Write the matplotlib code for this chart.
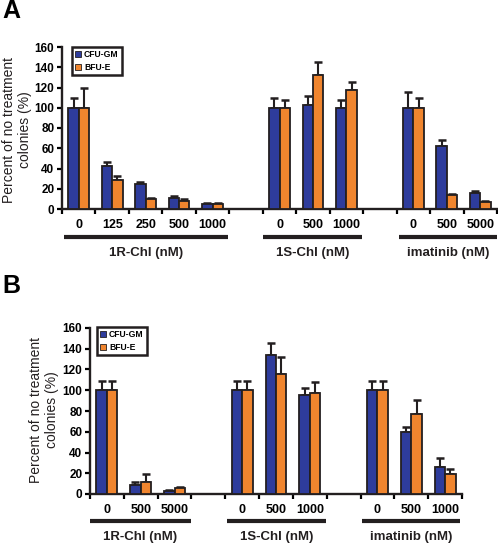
import numpy as np
import matplotlib
matplotlib.use("Agg")
import matplotlib.pyplot as plt
from matplotlib.patches import Patch
from matplotlib.transforms import blended_transform_factory

plt.rcParams['font.family'] = ['Liberation Sans', 'DejaVu Sans']

BLUE = "#2e3c9c"
ORANGE = "#f0852e"
EDGE = "#231f20"

# panel A
a_labels = ["0", "125", "250", "500", "1000", "0", "500", "1000", "0", "500", "5000"]
a_slots = [0, 1, 2, 3, 4, 6, 7, 8, 10, 11, 12]
a_gm = [100, 42, 25, 11, 5, 100, 103, 100, 100, 62, 16]
a_gm_err = [10, 4, 2, 2, 1, 10, 9, 8, 16, 6, 1.5]
a_e = [100, 29, 9.5, 8, 5, 100, 132, 118, 100, 14, 7]
a_e_err = [20, 3.5, 1.5, 1.5, 1, 8, 13, 7, 10, 1.2, 1.2]
a_groups = [("1R-Chl (nM)", 0.05, 4.95), ("1S-Chl (nM)", 6.02, 8.98), ("imatinib (nM)", 10.06, 13.0)]

# panel B
b_labels = ["0", "500", "5000", "0", "500", "1000", "0", "500", "1000"]
b_slots = [0, 1, 2, 4, 5, 6, 8, 9, 10]
b_gm = [100, 8.7, 3, 100, 134, 95, 100, 59.5, 26.5]
b_gm_err = [8.5, 2.5, 0.6, 8.5, 12, 7, 8.5, 5, 8]
b_e = [100, 12, 5.5, 100, 116, 97, 100, 77, 19.5]
b_e_err = [8.5, 7, 1, 8.5, 16, 10.5, 8.5, 14, 5]
b_groups = [("1R-Chl (nM)", 0.0, 2.99), ("1S-Chl (nM)", 4.05, 6.98), ("imatinib (nM)", 8.05, 10.95)]

W, H = 498, 544
fig = plt.figure(figsize=(W / 100, H / 100), dpi=100)


def px_axes(l, r, b, t):
    return fig.add_axes([l / W, 1 - b / H, (r - l) / W, (b - t) / H])


def draw_panel(ax, nslots, slots, labels, gm, gm_err, e, e_err, groups, line_y, text_y, leg_xy):
    x = np.array(slots) + 0.5
    w = 0.31
    kw = dict(width=w, edgecolor=EDGE, linewidth=1.3, zorder=3)
    ax.bar(x - w / 2, gm, color=BLUE, label="CFU-GM", **kw)
    ax.bar(x + w / 2, e, color=ORANGE, label="BFU-E", **kw)
    ekw = dict(fmt="none", ecolor=EDGE, elinewidth=1.5, capsize=2.6, capthick=1.8, zorder=2)
    ax.errorbar(x - w / 2, gm, yerr=[np.zeros(len(gm)), gm_err], **ekw)
    ax.errorbar(x + w / 2, e, yerr=[np.zeros(len(e)), e_err], **ekw)

    ax.set_xlim(0, nslots)
    ax.set_ylim(0, 160)
    ax.set_yticks(np.arange(0, 161, 20))
    ax.set_xticks(np.arange(0, nslots + 1))
    ax.set_xticklabels([])
    ax.set_xticks(x, minor=True)
    ax.set_xticklabels(labels, minor=True, fontsize=9, fontweight="bold")
    ax.tick_params(axis="x", which="minor", length=0, pad=7)
    ax.tick_params(axis="x", which="major", length=3.5, width=1.6, direction="out")
    ax.tick_params(axis="y", length=3.5, width=1.6, direction="out", pad=2)
    for lab in ax.get_yticklabels():
        lab.set_fontsize(8.5)
        lab.set_fontweight("bold")
    for s in ["top", "right"]:
        ax.spines[s].set_visible(False)
    for s in ["left", "bottom"]:
        ax.spines[s].set_linewidth(1.7)
        ax.spines[s].set_color(EDGE)

    trans = blended_transform_factory(ax.transData, ax.transAxes)
    for name, x0, x1 in groups:
        ax.plot([x0, x1], [line_y, line_y], transform=trans, color=EDGE,
                linewidth=3, solid_capstyle="butt", clip_on=False)
        ax.text((x0 + x1) / 2, text_y, name, transform=trans, ha="center", va="center",
                fontsize=9.5, fontweight="bold", color=EDGE)

    handles = [Patch(facecolor=BLUE, edgecolor=EDGE, linewidth=0.6, label="CFU-GM"),
               Patch(facecolor=ORANGE, edgecolor=EDGE, linewidth=0.6, label="BFU-E")]
    leg = ax.legend(handles=handles, loc="upper left", bbox_to_anchor=(leg_xy[0] / W, 1 - leg_xy[1] / H),
                    bbox_transform=fig.transFigure, fancybox=False, framealpha=1,
                    prop={"size": 6.2, "weight": "bold"}, handlelength=0.7, handleheight=0.7,
                    handletextpad=0.3, borderpad=0.4, labelspacing=0.4, borderaxespad=0)
    leg.get_frame().set_edgecolor(EDGE)
    leg.get_frame().set_linewidth(1.8)


axA = px_axes(62, 497, 209, 47)
draw_panel(axA, 13, a_slots, a_labels, a_gm, a_gm_err, a_e, a_e_err, a_groups,
           -28 / 162, -44 / 162, (72, 47))
axB = px_axes(90, 462, 494, 328)
draw_panel(axB, 11, b_slots, b_labels, b_gm, b_gm_err, b_e, b_e_err, b_groups,
           -27 / 166, -43 / 166, (97, 327))

for cx, cy in [(17, 130), (44, 410)]:
    fig.text(cx / W, 1 - cy / H, "Percent of no treatment\ncolonies (%)", rotation=90,
             ha="center", va="center", fontsize=10, linespacing=1.1, color=EDGE)

fig.text(2 / W, 1 - 11 / H, "A", fontsize=18, fontweight="bold", va="center", ha="left")
fig.text(2 / W, 1 - 286 / H, "B", fontsize=18, fontweight="bold", va="center", ha="left")

fig.savefig("out.png", dpi=100)
